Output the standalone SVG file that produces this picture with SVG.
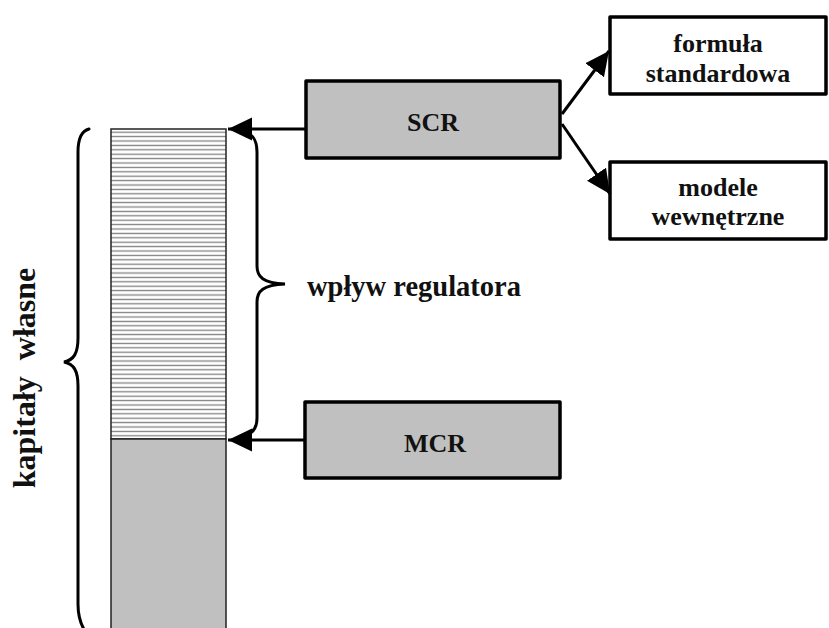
<svg xmlns="http://www.w3.org/2000/svg" width="829" height="628" viewBox="0 0 829 628">
<style>
.box{fill:#c0c0c0;stroke:#000;stroke-width:3.5;stroke-linejoin:round}
.wbox{fill:#fff;stroke:#000;stroke-width:3.5;stroke-linejoin:round}
.t{font-family:"Liberation Serif","Times New Roman",serif;font-weight:bold;font-size:26px;fill:#111;text-anchor:middle}
.conn{stroke:#000;stroke-width:3;fill:none}
.brace{stroke:#000;stroke-width:3;fill:none;stroke-linecap:round}
</style>
<defs>
<pattern id="hatch" patternUnits="userSpaceOnUse" width="10" height="4.4" x="0" y="130">
<rect width="10" height="4.4" fill="#fff"/>
<line x1="0" y1="2.2" x2="10" y2="2.2" stroke="#808080" stroke-width="1.3"/>
</pattern>
<marker id="ah" markerWidth="8" markerHeight="8" refX="6.2" refY="3" orient="auto" markerUnits="strokeWidth" viewBox="0 0 6.2 6">
<path d="M0,0 L6.2,3 L0,6 Z" fill="#000"/>
</marker>
</defs>

<g id="column">
<rect x="111" y="129" width="115" height="310" fill="url(#hatch)" stroke="#222" stroke-width="1.5"/>
<rect x="111" y="439" width="115" height="200" fill="#c0c0c0" stroke="#222" stroke-width="1.5"/>
</g>

<g id="brace-left">
<path class="brace" d="M89,129 C81,131 78,139 78,152 L78,338 C78,353 74,360 64,362 C74,364 78,371 78,386 L78,604 C78,617 81,626 87,634"/>
</g>
<g id="label-kapitaly">
<text class="t" style="font-size:32px;text-anchor:middle" xml:space="preserve" transform="translate(35,378) rotate(-90)">kapitały  własne</text>
</g>

<g id="brace-right">
<path class="brace" d="M244,132 C253,134 257,140 257,152 L257,266 C257,277 263,283 285,284 C263,285 257,291 257,302 L257,418 C257,428 253,433 246,435"/>
</g>
<g id="label-wplyw">
<text class="t" style="font-size:28.5px;text-anchor:start" x="307" y="296">wpływ regulatora</text>
</g>

<g id="scr">
<rect class="box" x="306" y="81" width="254" height="77"/>
<text class="t" x="433" y="131">SCR</text>
</g>
<g id="mcr">
<rect class="box" x="305" y="402" width="255" height="76"/>
<text class="t" x="435" y="452">MCR</text>
</g>
<g id="formula">
<rect class="wbox" x="610" y="17" width="216" height="77"/>
<text class="t" x="718" y="52">formuła</text>
<text class="t" x="718" y="82">standardowa</text>
</g>
<g id="modele">
<rect class="wbox" x="610" y="162" width="216" height="77"/>
<text class="t" x="718" y="196">modele</text>
<text class="t" x="718" y="225">wewnętrzne</text>
</g>

<g id="connectors">
<line class="conn" x1="306" y1="129" x2="228" y2="129" marker-end="url(#ah)"/>
<line class="conn" x1="305" y1="440" x2="228" y2="440" marker-end="url(#ah)"/>
<line class="conn" x1="562" y1="114" x2="609" y2="51" marker-end="url(#ah)"/>
<line class="conn" x1="562" y1="124" x2="610" y2="194" marker-end="url(#ah)"/>
</g>
</svg>
